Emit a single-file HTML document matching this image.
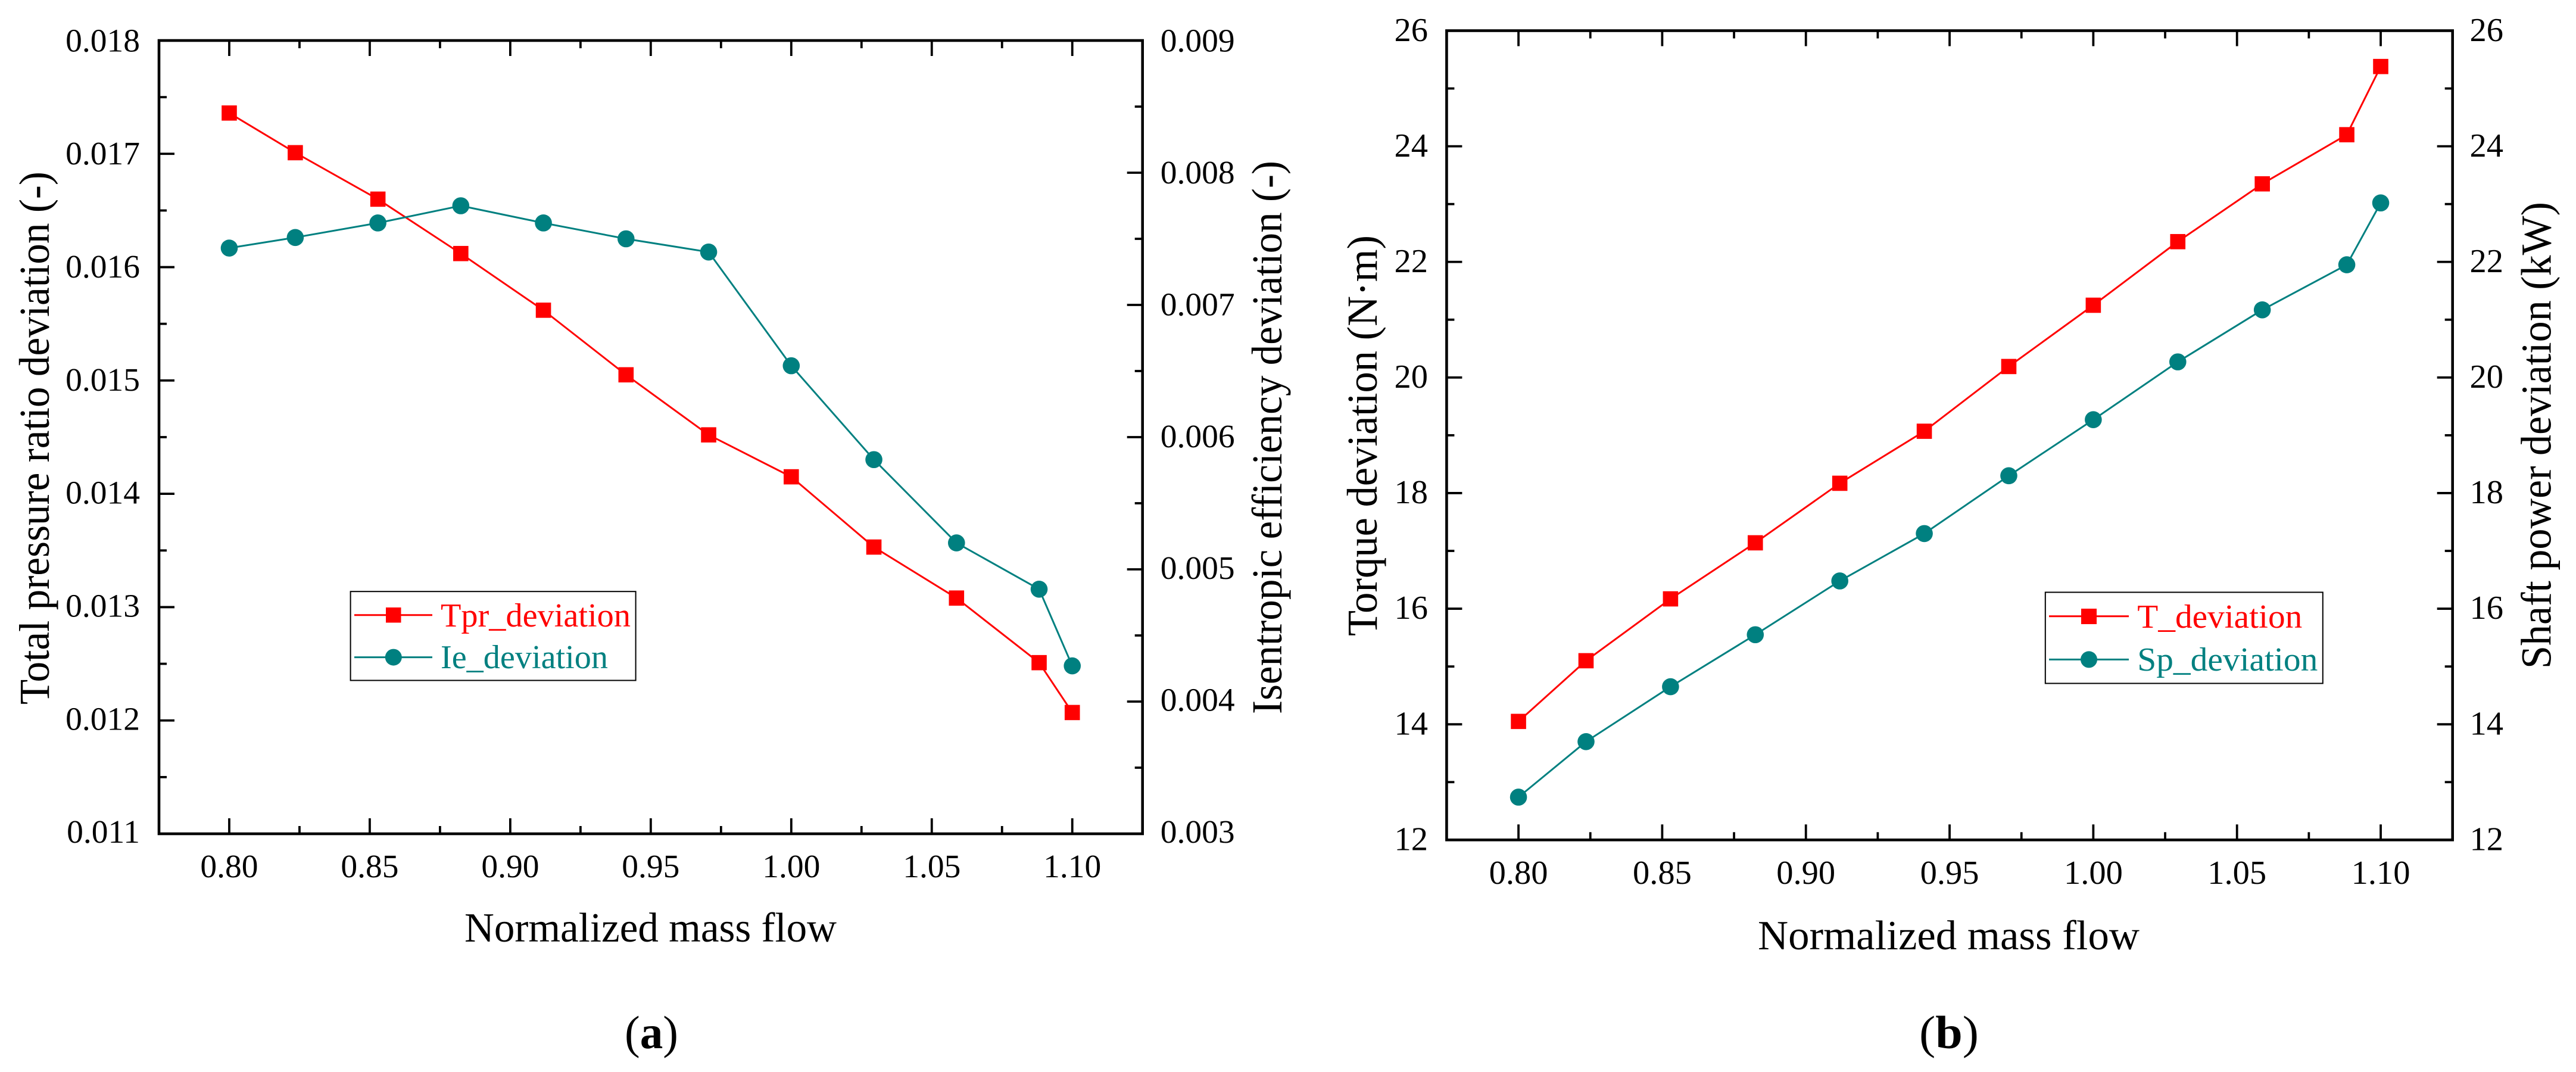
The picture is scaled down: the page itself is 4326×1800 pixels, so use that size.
<!DOCTYPE html>
<html lang="en">
<head>
<meta charset="utf-8">
<title>Deviation charts versus normalized mass flow</title>
<style>
html,body{margin:0;padding:0;background:#fff;}
body{width:4326px;height:1800px;overflow:hidden;}
svg{display:block;}
text{font-family:"Liberation Serif",serif;fill:#000;}
.title{font-size:72px;}
.xtitle{font-size:70px;}
.legend-text{font-size:56.5px;}
.caption{font-size:78px;}
</style>
</head>
<body>
<svg id="figure" xmlns="http://www.w3.org/2000/svg" width="4326" height="1800" viewBox="0 0 4326 1800">
  <rect x="0" y="0" width="4326" height="1800" fill="#ffffff"/>
  <g id="panel-a"></g>
  <g id="panel-b"></g>

  <text class="title" transform="translate(82,1183) rotate(-90)" textLength="895" lengthAdjust="spacingAndGlyphs">Total pressure ratio deviation (-)</text>
  <text class="title" transform="translate(2152,1199) rotate(-90)" textLength="929" lengthAdjust="spacingAndGlyphs">Isentropic efficiency deviation (-)</text>
  <text class="xtitle" x="780" y="1581" textLength="625" lengthAdjust="spacingAndGlyphs">Normalized mass flow</text>

  <text class="title" transform="translate(2312,1068) rotate(-90)" textLength="673" lengthAdjust="spacingAndGlyphs">Torque deviation (N·m)</text>
  <text class="title" transform="translate(4283.5,1123) rotate(-90)" textLength="784" lengthAdjust="spacingAndGlyphs">Shaft power deviation (kW)</text>
  <text class="xtitle" x="2952" y="1594" textLength="641" lengthAdjust="spacingAndGlyphs">Normalized mass flow</text>

  <g>
    <rect x="588.6" y="993.2" width="479" height="149.3" fill="#fff" stroke="#000" stroke-width="2"/>
    <line x1="595" y1="1032.8" x2="726" y2="1032.8" stroke="#ff0000" stroke-width="3"/>
    <rect x="648" y="1020" width="25.5" height="25.5" fill="#ff0000"/>
    <text class="legend-text" x="740" y="1052" textLength="319" lengthAdjust="spacingAndGlyphs" style="fill:#ff0000">Tpr_deviation</text>
    <line x1="595" y1="1103.6" x2="726" y2="1103.6" stroke="#008080" stroke-width="3"/>
    <circle cx="660.8" cy="1103.6" r="14" fill="#008080"/>
    <text class="legend-text" x="740" y="1122" textLength="281" lengthAdjust="spacingAndGlyphs" style="fill:#008080">Ie_deviation</text>
  </g>

  <g>
    <rect x="3434.8" y="994.5" width="466" height="153" fill="#fff" stroke="#000" stroke-width="2"/>
    <line x1="3441" y1="1034.7" x2="3575" y2="1034.7" stroke="#ff0000" stroke-width="3"/>
    <rect x="3495" y="1022" width="26" height="26" fill="#ff0000"/>
    <text class="legend-text" x="3589.3" y="1053.8" textLength="277" lengthAdjust="spacingAndGlyphs" style="fill:#ff0000">T_deviation</text>
    <line x1="3441" y1="1107.4" x2="3575" y2="1107.4" stroke="#008080" stroke-width="3"/>
    <circle cx="3508" cy="1107.4" r="14" fill="#008080"/>
    <text class="legend-text" x="3589.3" y="1126" textLength="303" lengthAdjust="spacingAndGlyphs" style="fill:#008080">Sp_deviation</text>
  </g>

  <text class="caption" x="1049" y="1760" textLength="90" lengthAdjust="spacingAndGlyphs">(<tspan font-weight="700">a</tspan>)</text>
  <text class="caption" x="3223" y="1760" textLength="100" lengthAdjust="spacingAndGlyphs">(<tspan font-weight="700">b</tspan>)</text>
</svg>

<script>
const massFlow = [0.8, 0.8235, 0.8529, 0.8824, 0.9118, 0.9412, 0.9706, 1.0, 1.0294, 1.0588, 1.0882, 1.1];
const xTickLabels = ['0.80', '0.85', '0.90', '0.95', '1.00', '1.05', '1.10'];

const tprDeviation = [0.01736, 0.01701, 0.01660, 0.01612, 0.01562, 0.01505, 0.01452, 0.01415, 0.01353, 0.01308, 0.01251, 0.01207];
const ieDeviation = [0.00743, 0.00751, 0.00762, 0.00775, 0.00762, 0.00750, 0.00740, 0.00654, 0.00583, 0.00520, 0.00485, 0.00427];
const tprTickLabels = ['0.011', '0.012', '0.013', '0.014', '0.015', '0.016', '0.017', '0.018'];
const ieTickLabels = ['0.003', '0.004', '0.005', '0.006', '0.007', '0.008', '0.009'];

const torqueDeviation = [14.05, 15.10, 16.17, 17.14, 18.17, 19.07, 20.19, 21.25, 22.35, 23.35, 24.20, 25.38];
const shaftPowerDeviation = [12.74, 13.70, 14.65, 15.55, 16.48, 17.30, 18.30, 19.27, 20.27, 21.17, 21.95, 23.02];
const torqueTickLabels = ['12', '14', '16', '18', '20', '22', '24', '26'];
const powerTickLabels = ['12', '14', '16', '18', '20', '22', '24', '26'];

const SVG_NS = 'http://www.w3.org/2000/svg';
const RED = '#ff0000';
const TEAL = '#008080';

function make(tag, attrs, parent, text) {
  const node = document.createElementNS(SVG_NS, tag);
  for (const key in attrs) node.setAttribute(key, attrs[key]);
  if (text !== undefined) node.textContent = text;
  parent.appendChild(node);
  return node;
}

function linear(d0, d1, r0, r1) {
  return function (v) { return r0 + (v - d0) / (d1 - d0) * (r1 - r0); };
}

function drawSeries(group, name, xs, ys, sx, sy, color, marker) {
  const pts = xs.map(function (x, i) { return sx(x).toFixed(2) + ',' + sy(ys[i]).toFixed(2); }).join(' ');
  const line = make('polyline', { points: pts, fill: 'none', stroke: color, 'stroke-width': 3, 'stroke-linejoin': 'round' }, group);
  
  
  xs.forEach(function (x, i) {
    const cx = sx(x), cy = sy(ys[i]);
    let m;
    if (marker === 'square') {
      m = make('rect', { x: cx - 12.8, y: cy - 12.8, width: 25.6, height: 25.6, fill: color }, group);
    } else {
      m = make('circle', { cx: cx, cy: cy, r: 14.3, fill: color }, group);
    }
    
    
  });
}

function drawPanel(id, box, xDomain, leftLabels, rightLabels, leftSeries, rightSeries, fontSize, xLabelBaseline, leftName, rightName) {
  const g = document.getElementById(id);
  const sx = linear(xDomain[0], xDomain[1], box.left, box.right);
  const leftVals = leftLabels.map(Number);
  const rightVals = rightLabels.map(Number);
  const sl = linear(leftVals[0], leftVals[leftVals.length - 1], box.bottom, box.top);
  const sr = linear(rightVals[0], rightVals[rightVals.length - 1], box.bottom, box.top);
  const axisAttrs = { stroke: '#000', 'stroke-width': 3.8 };
  const majorLen = 26, minorLen = 13;

  const xVals = xTickLabels.map(Number);
  xVals.forEach(function (v, i) {
    const x = sx(v);
    [[box.bottom, box.bottom - majorLen], [box.top, box.top + majorLen]].forEach(function (p) {
      const t = make('line', Object.assign({ x1: x, x2: x, y1: p[0], y2: p[1] }, axisAttrs), g);
      
      
    });
    const lab = make('text', { x: x, y: xLabelBaseline, 'text-anchor': 'middle', 'font-size': fontSize }, g, xTickLabels[i]);
    
    
    if (i < xVals.length - 1) {
      const xm = sx((v + xVals[i + 1]) / 2);
      [[box.bottom, box.bottom - minorLen], [box.top, box.top + minorLen]].forEach(function (p) {
        const t = make('line', Object.assign({ x1: xm, x2: xm, y1: p[0], y2: p[1] }, axisAttrs), g);
        
        
      });
    }
  });

  function yTicks(vals, labels, scale, edge, dir, labelX, anchor, name) {
    vals.forEach(function (v, i) {
      const y = scale(v);
      if (i > 0 && i < vals.length - 1) {
        const t = make('line', Object.assign({ x1: edge, x2: edge + dir * majorLen, y1: y, y2: y }, axisAttrs), g);
        
        
      }
      const drift = box.labelDropBottom + (box.labelDropTop - box.labelDropBottom) * i / (vals.length - 1);
      const lab = make('text', { x: labelX, y: y + drift, 'text-anchor': anchor, 'font-size': fontSize }, g, labels[i]);
      
      
      if (i < vals.length - 1) {
        const ym = scale((v + vals[i + 1]) / 2);
        const t2 = make('line', Object.assign({ x1: edge, x2: edge + dir * minorLen, y1: ym, y2: ym }, axisAttrs), g);
        
        
      }
    });
  }
  yTicks(leftVals, leftLabels, sl, box.left, 1, box.leftLabelX, 'end', leftName);
  yTicks(rightVals, rightLabels, sr, box.right, -1, box.rightLabelX, 'start', rightName);

  const frame = make('rect', { x: box.left, y: box.top, width: box.right - box.left, height: box.bottom - box.top, fill: 'none', stroke: '#000', 'stroke-width': 4.6 }, g);
  
  

  drawSeries(g, leftName, massFlow, leftSeries, sx, sl, RED, 'square');
  drawSeries(g, rightName, massFlow, rightSeries, sx, sr, TEAL, 'circle');
}

drawPanel('panel-a',
  { left: 267, right: 1918.7, top: 68, bottom: 1400, leftLabelX: 235, rightLabelX: 1948.8, labelDropBottom: 15.2, labelDropTop: 18.3 },
  [0.775, 1.125], tprTickLabels, ieTickLabels, tprDeviation, ieDeviation, 55.5, 1473, 'tpr-deviation', 'ie-deviation');

drawPanel('panel-b',
  { left: 2429.4, right: 4118.7, top: 51.5, bottom: 1410.3, leftLabelX: 2398, rightLabelX: 4147.5, labelDropBottom: 17, labelDropTop: 17.5 },
  [0.775, 1.125], torqueTickLabels, powerTickLabels, torqueDeviation, shaftPowerDeviation, 56.5, 1484, 't-deviation', 'sp-deviation');
</script>
</body>
</html>
